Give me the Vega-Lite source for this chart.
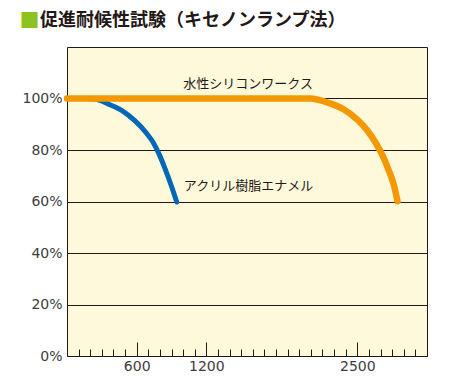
{
  "$schema": "https://vega.github.io/schema/vega-lite/v6.json",
  "width": 360,
  "height": 309,
  "autosize": "none",
  "padding": {"left": 67, "top": 47, "right": 22, "bottom": 28},
  "background": "#ffffff",
  "title": {
    "text": "促進耐候性試験（キセノンランプ法）",
    "anchor": "start",
    "frame": "group",
    "dx": -27,
    "offset": -19,
    "font": "Noto Sans CJK JP",
    "fontSize": 18,
    "fontWeight": "bold",
    "color": "#231815"
  },
  "config": {
    "view": {"fill": "#FFF9DB", "stroke": "#231815", "strokeWidth": 1},
    "axis": {"labelFont": "DejaVu Sans", "labelFontSize": 14, "labelColor": "#3c3c3c"}
  },
  "resolve": {"axis": {"x": "independent"}},
  "datasets": {
    "curves": [
      {"series": "アクリル樹脂エナメル", "h": 0, "pct": 100},
      {"series": "アクリル樹脂エナメル", "h": 150, "pct": 100},
      {"series": "アクリル樹脂エナメル", "h": 241, "pct": 99.8},
      {"series": "アクリル樹脂エナメル", "h": 353, "pct": 97.9},
      {"series": "アクリル樹脂エナメル", "h": 474, "pct": 95.3},
      {"series": "アクリル樹脂エナメル", "h": 586, "pct": 91.3},
      {"series": "アクリル樹脂エナメル", "h": 680, "pct": 86.8},
      {"series": "アクリル樹脂エナメル", "h": 741, "pct": 83.0},
      {"series": "アクリル樹脂エナメル", "h": 792, "pct": 78.5},
      {"series": "アクリル樹脂エナメル", "h": 844, "pct": 72.8},
      {"series": "アクリル樹脂エナメル", "h": 896, "pct": 66.4},
      {"series": "アクリル樹脂エナメル", "h": 945, "pct": 59.8},
      {"series": "水性シリコンワークス", "h": 0, "pct": 100},
      {"series": "水性シリコンワークス", "h": 1000, "pct": 100},
      {"series": "水性シリコンワークス", "h": 2000, "pct": 100},
      {"series": "水性シリコンワークス", "h": 2092, "pct": 100},
      {"series": "水性シリコンワークス", "h": 2265, "pct": 98.1},
      {"series": "水性シリコンワークス", "h": 2377, "pct": 95.9},
      {"series": "水性シリコンワークス", "h": 2497, "pct": 91.9},
      {"series": "水性シリコンワークス", "h": 2583, "pct": 87.8},
      {"series": "水性シリコンワークス", "h": 2661, "pct": 82.6},
      {"series": "水性シリコンワークス", "h": 2721, "pct": 77.5},
      {"series": "水性シリコンワークス", "h": 2773, "pct": 71.8},
      {"series": "水性シリコンワークス", "h": 2816, "pct": 66.2},
      {"series": "水性シリコンワークス", "h": 2846, "pct": 60.1}
    ],
    "labels": [
      {"series": "水性シリコンワークス", "h": 1560, "pct": 105.7},
      {"series": "アクリル樹脂エナメル", "h": 1563, "pct": 66.0}
    ]
  },
  "layer": [
    {
      "data": {"name": "curves"},
      "mark": {"type": "line", "interpolate": "monotone", "strokeCap": "round", "strokeJoin": "round", "clip": false},
      "encoding": {
        "x": {"field": "h", "type": "quantitative", "scale": {"domain": [0, 3100], "nice": false, "zero": false},
          "axis": {"orient": "bottom", "title": null, "values": [100,200,300,400,500,600,700,800,900,1000,1100,1200,1300,1400,1500,1600,1700,1800,1900,2000,2100,2200,2300,2400,2500,2600,2700,2800,2900,3000],
            "labels": false, "domain": false, "grid": false, "tickSize": -7, "tickColor": "#231815", "tickWidth": 1}},
        "y": {"field": "pct", "type": "quantitative", "scale": {"domain": [0, 120], "nice": false},
          "axis": {"title": "■", "titleAngle": 0, "titleAlign": "left", "titleBaseline": "top", "titleX": -48, "titleY": -36,
            "titleFont": "Noto Sans CJK JP", "titleFontSize": 20, "titleColor": "#8DC21F", "titleFontWeight": "normal",
            "values": [0,20,40,60,80,100], "labelExpr": "datum.value + '%'", "ticks": false, "domain": false,
            "grid": true, "gridColor": "#231815", "gridWidth": 1, "gridOpacity": 1, "labelPadding": 5}},
        "color": {"field": "series", "type": "nominal", "legend": null,
          "scale": {"domain": ["アクリル樹脂エナメル", "水性シリコンワークス"], "range": ["#0068B7", "#F39800"]}},
        "strokeWidth": {"field": "series", "type": "nominal", "legend": null,
          "scale": {"domain": ["アクリル樹脂エナメル", "水性シリコンワークス"], "range": [5, 6.5]}},
        "order": {"field": "h", "type": "quantitative"}
      }
    },
    {
      "data": {"name": "labels"},
      "mark": {"type": "text", "align": "center", "baseline": "middle", "font": "Noto Sans CJK JP", "fontSize": 13, "color": "#231815"},
      "encoding": {
        "x": {"field": "h", "type": "quantitative",
          "axis": {"orient": "bottom", "title": null, "values": [600, 1200, 2500], "format": "d", "labelOverlap": false,
            "domain": false, "grid": false, "tickSize": -14, "tickColor": "#231815", "tickWidth": 1, "labelPadding": 17}},
        "y": {"field": "pct", "type": "quantitative"},
        "text": {"field": "series", "type": "nominal"}
      }
    }
  ]
}
